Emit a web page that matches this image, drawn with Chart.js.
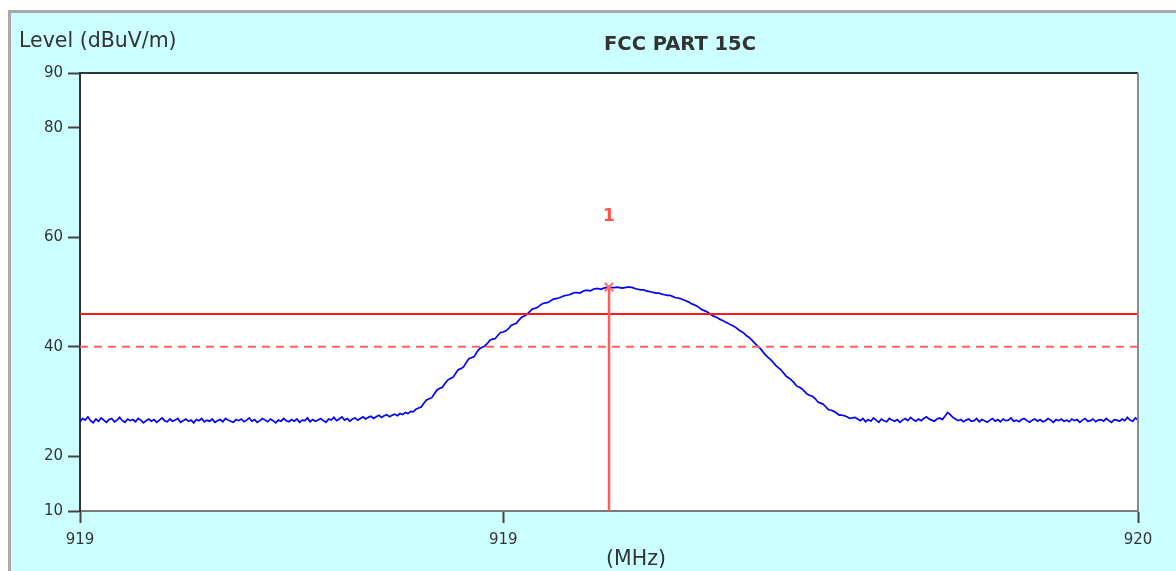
<!DOCTYPE html>
<html><head><meta charset="utf-8">
<script src="https://cdn.jsdelivr.net/npm/chart.js@4.4.0/dist/chart.umd.min.js"></script>
<style>html,body{margin:0;padding:0;background:#fff;overflow:hidden}#wrap{width:1176px;height:571px;position:relative}canvas{display:block}</style>
</head><body><div id="wrap"><canvas id="c" width="1176" height="571"></canvas></div>
<script>
// ---- data ----
const startFreq = 919.0;
const stepFreq = 0.0025;
const levels = [
 26.3, 26.9, 26.6, 27.2, 26.5, 26.1, 26.8, 26.4, 27.0, 26.6, 26.2, 26.7, 26.9, 26.3, 26.6, 27.1, 26.5, 26.2, 26.8, 26.5,
 26.7, 26.3, 26.9, 26.6, 26.1, 26.5, 26.8, 26.4, 26.7, 26.2, 26.6, 27.0, 26.5, 26.3, 26.8, 26.4, 26.6, 26.9, 26.2, 26.5,
 26.8, 26.4, 26.6, 26.1, 26.7, 26.5, 26.9, 26.3, 26.6, 26.4, 26.8, 26.2, 26.5, 26.7, 26.3, 26.9, 26.6, 26.4, 26.2, 26.7,
 26.5, 26.8, 26.3, 26.6, 27.0, 26.4, 26.7, 26.2, 26.5, 26.9, 26.6, 26.3, 26.8, 26.5, 26.1, 26.6, 26.4, 26.9, 26.5, 26.3,
 26.7, 26.4, 26.8, 26.2, 26.6, 26.5, 27.0, 26.3, 26.7, 26.4, 26.6, 26.9, 26.5, 26.2, 26.8, 26.6, 27.1, 26.5, 26.8, 27.2,
 26.6, 26.9, 26.4, 26.8, 27.0, 26.6, 26.9, 27.2, 26.8, 27.1, 27.3, 26.9, 27.2, 27.5, 27.1, 27.4, 27.6, 27.2, 27.5, 27.7,
 27.4, 27.8, 27.6, 28.0, 27.8, 28.2,
 28.1, 28.6, 28.8, 29.0, 29.7, 30.3, 30.5, 30.7, 31.4, 32.1, 32.4, 32.6, 33.3, 33.9, 34.2, 34.4, 35.1, 35.8, 36.0, 36.3,
 37.1, 37.8, 38.0, 38.2, 39.0, 39.6, 39.9, 40.1, 40.6, 41.2, 41.4, 41.5, 42.1, 42.6, 42.7, 42.9, 43.3, 43.9, 44.1, 44.3,
 44.9, 45.4, 45.6, 45.9, 46.4, 46.9, 47.0, 47.2, 47.6, 47.9, 48.0, 48.1, 48.4, 48.7, 48.8, 48.9, 49.1, 49.3, 49.4, 49.5,
 49.7, 49.9, 49.9, 49.8, 50.1, 50.3, 50.3, 50.2, 50.5, 50.6, 50.6, 50.5, 50.7, 50.8, 50.9,
 50.8, 50.8, 50.9, 50.8, 50.7, 50.8, 50.9, 50.9, 50.8, 50.6, 50.5, 50.4, 50.4, 50.2, 50.1, 50.0, 49.9, 49.8, 49.8, 49.6,
 49.5, 49.4, 49.4, 49.2, 49.0, 48.9, 48.8, 48.6, 48.4, 48.2, 47.9, 47.7, 47.5, 47.2, 46.8, 46.6, 46.4, 46.1, 45.7, 45.5,
 45.3, 45.0, 44.8, 44.5, 44.3, 44.0, 43.8, 43.5, 43.1, 42.8, 42.5, 42.0, 41.7, 41.2, 40.7, 40.2, 39.8, 39.2, 38.6, 38.1,
 37.7, 37.2, 36.6, 36.2, 35.8, 35.2, 34.6, 34.3, 33.9, 33.4, 32.8, 32.6, 32.3, 31.8, 31.3, 31.1, 30.9, 30.5, 29.9, 29.7,
 29.5, 29.0, 28.5, 28.4, 28.2, 27.9, 27.5, 27.5, 27.4, 27.2, 26.9, 27.0, 27.1, 26.8,
 26.5, 26.9, 26.3, 26.7, 26.4, 27.0, 26.6, 26.2, 26.8, 26.5, 26.3, 26.9, 26.6, 26.4, 26.7, 26.2, 26.6, 26.9, 26.5, 27.1,
 26.7, 26.4, 26.8, 26.5, 26.9, 27.2, 26.8, 26.6, 26.4, 26.8, 27.0, 26.7, 27.3, 28.0, 27.6, 27.1, 26.8, 26.5, 26.7, 26.3,
 26.6, 26.8, 26.4, 26.5, 26.9, 26.3, 26.7, 26.5, 26.2, 26.6, 26.9, 26.4, 26.7, 26.3, 26.8, 26.5, 26.6, 27.0, 26.4, 26.6,
 26.3, 26.7, 26.9, 26.5, 26.2, 26.6, 26.8, 26.4, 26.7, 26.3, 26.5, 26.9, 26.6, 26.2, 26.7, 26.5, 26.8, 26.4, 26.6, 26.3,
 26.8, 26.5, 26.7, 26.2, 26.6, 26.9, 26.4, 26.5, 26.8, 26.3, 26.6, 26.7, 26.4, 26.9, 26.5, 26.2, 26.7, 26.6, 26.4, 26.8,
 26.5, 27.1, 26.6, 26.4, 27.0, 26.6
];
const freqs = levels.map((_, i) => +(startFreq + i * stepFreq).toFixed(4));
const limitFreqs = [919.0, 920.0];
const limitLevel = 46;
const marginLevel = 40;
const markerFreq = 919.5;
const markerLevel = 50.9;
const markerLabel = '1';
const yTicks = [10, 20, 40, 60, 80, 90];
const xTicks = [919.0, 919.4, 920.0];
const xTickLabels = ['919', '919', '920'];
const titleText = 'FCC PART 15C';
const yTitleText = 'Level (dBuV/m)';
const xTitleText = '(MHz)';

// ---- chart ----
const FONT = '"DejaVu Sans", Verdana, sans-serif';
const TEXT = '#333333';

const frame = {
  id: 'frame',
  beforeDraw(chart) {
    const ctx = chart.ctx, a = chart.chartArea;
    ctx.save();
    ctx.fillStyle = '#ffffff';
    ctx.fillRect(0, 0, chart.width, chart.height);
    ctx.fillStyle = '#ccffff';
    ctx.fillRect(10, 12, chart.width - 10, chart.height - 12);
    ctx.strokeStyle = '#a8a8a8';
    ctx.lineWidth = 3;
    ctx.beginPath();
    ctx.moveTo(9.5, chart.height);
    ctx.lineTo(9.5, 11.5);
    ctx.lineTo(chart.width, 11.5);
    ctx.stroke();
    ctx.fillStyle = '#ffffff';
    ctx.fillRect(a.left, a.top, a.right - a.left, a.bottom - a.top);
    ctx.restore();
  },
  afterDraw(chart) {
    const ctx = chart.ctx, a = chart.chartArea;
    ctx.save();
    ctx.lineWidth = 2;
    ctx.strokeStyle = '#333333';
    ctx.beginPath(); ctx.moveTo(a.left - 1, a.top); ctx.lineTo(a.right, a.top); ctx.stroke();
    ctx.strokeStyle = '#8a8a8a';
    ctx.beginPath(); ctx.moveTo(a.right, a.top); ctx.lineTo(a.right, a.bottom); ctx.stroke();
    ctx.fillStyle = TEXT;
    ctx.textBaseline = 'middle';
    ctx.font = '20.5px ' + FONT;
    ctx.textAlign = 'left';
    ctx.fillText(yTitleText, 19, 42);
    ctx.textAlign = 'center';
    ctx.fillText(xTitleText, 636, 560);
    ctx.font = 'bold 19.5px ' + FONT;
    ctx.fillText(titleText, 680, 45);
    const mx = chart.scales.x.getPixelForValue(markerFreq);
    const my = chart.scales.y.getPixelForValue(markerLevel);
    ctx.font = 'bold 17px ' + FONT;
    ctx.fillStyle = '#ff5050';
    ctx.fillText(markerLabel, mx, my - 70);
    ctx.restore();
  }
};

new Chart(document.getElementById('c'), {
  type: 'line',
  data: {
    datasets: [
      { data: [{x: markerFreq, y: markerLevel}], showLine: false, pointStyle: 'crossRot',
        pointRadius: 6, borderColor: '#ff6a6a', pointBorderWidth: 2, order: 0 },
      { data: [{x: markerFreq, y: yTicks[0]}, {x: markerFreq, y: markerLevel}], borderColor: '#ff5c5c',
        borderWidth: 2.5, pointRadius: 0, order: 1 },
      { data: limitFreqs.map(f => ({x: f, y: limitLevel})), borderColor: '#ff1a1a', borderWidth: 2,
        pointRadius: 0, order: 2 },
      { data: limitFreqs.map(f => ({x: f, y: marginLevel})), borderColor: '#ff6060', borderWidth: 2,
        borderDash: [8, 6], pointRadius: 0, order: 3 },
      { data: freqs.map((f, i) => ({x: f, y: levels[i]})), borderColor: '#0000ff', borderWidth: 1.7,
        pointRadius: 0, tension: 0, order: 4 }
    ]
  },
  options: {
    responsive: false,
    animation: false,
    devicePixelRatio: 1,
    layout: { padding: { left: 0, top: 73, right: 38, bottom: 0 } },
    plugins: { legend: { display: false }, tooltip: { enabled: false }, title: { display: false } },
    scales: {
      x: {
        type: 'linear', min: xTicks[0], max: xTicks[xTicks.length - 1],
        afterBuildTicks: s => { s.ticks = xTicks.map(v => ({value: v})); },
        afterFit: s => { s.height = 60; },
        ticks: { autoSkip: false, maxRotation: 0, padding: 8, color: TEXT, font: { family: FONT, size: 15 },
          callback: (v, i) => xTickLabels[i] },
        grid: { drawOnChartArea: false, drawTicks: true, tickLength: 12, tickWidth: 2, tickColor: '#444' },
        border: { display: true, color: '#7a7a7a', width: 2 }
      },
      y: {
        type: 'linear', min: yTicks[0], max: yTicks[yTicks.length - 1],
        afterBuildTicks: s => { s.ticks = yTicks.map(v => ({value: v})); },
        afterFit: s => { s.width = 80; },
        ticks: { autoSkip: false, padding: 5, color: TEXT, font: { family: FONT, size: 15 },
          callback: v => String(v) },
        grid: { drawOnChartArea: false, drawTicks: true, tickLength: 12, tickWidth: 2, tickColor: '#444' },
        border: { display: true, color: '#333333', width: 2 }
      }
    }
  },
  plugins: [frame]
});
</script>
</body></html>
